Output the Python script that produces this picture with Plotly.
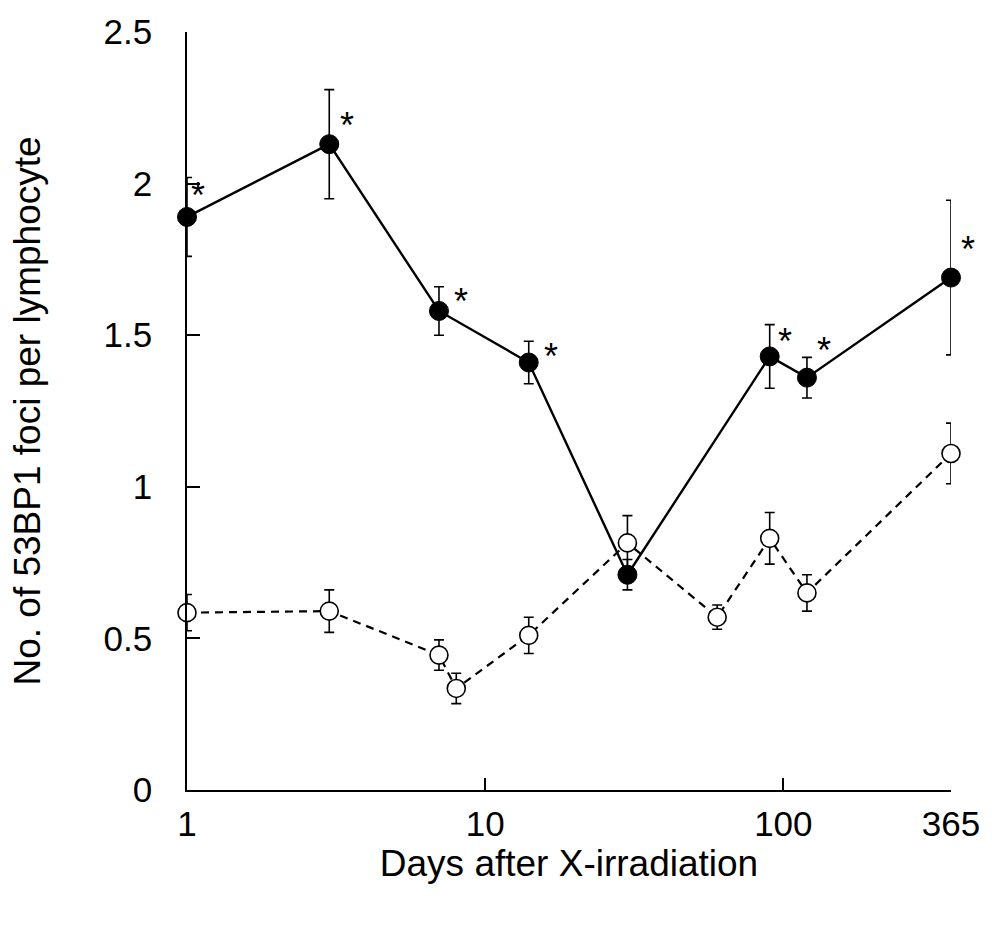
import math
import plotly.graph_objects as go

# Irradiated group (filled circles)
days_irr = [1, 3, 7, 14, 30, 90, 120, 365]
foci_irr = [1.89, 2.13, 1.58, 1.41, 0.71, 1.43, 1.36, 1.69]
err_irr = [0.13, 0.18, 0.08, 0.07, 0.05, 0.105, 0.067, 0.255]
significant = [True, True, True, True, False, True, True, True]

# Control group (open circles)
days_ctrl = [1, 3, 7, 8, 14, 30, 60, 90, 120, 365]
foci_ctrl = [0.585, 0.59, 0.445, 0.335, 0.51, 0.815, 0.57, 0.83, 0.65, 1.11]
err_ctrl = [0.06, 0.07, 0.05, 0.05, 0.06, 0.09, 0.04, 0.085, 0.06, 0.10]

x_tick_vals = [1, 10, 100, 365]
x_tick_text = ["1", "10", "100", "365"]
y_tick_vals = [0, 0.5, 1, 1.5, 2, 2.5]
y_tick_text = ["0", "0.5", "1", "1.5", "2", "2.5"]

# pixel offsets of each asterisk from its marker
star_shift = [(11, 21), (18, 19), (22, 9), (22, 6), (0, 0), (15, 15), (17, 27), (17, 28)]

FONT = "Liberation Sans, Arial, Helvetica, sans-serif"

fig = go.Figure()

fig.add_trace(go.Scatter(
    x=days_ctrl, y=foci_ctrl, mode="lines+markers",
    line=dict(color="black", width=2.2, dash="8px,6px"),
    marker=dict(symbol="circle", size=18, color="white",
                line=dict(color="black", width=1.6)),
    error_y=dict(type="data", array=err_ctrl, visible=True,
                 color="black", thickness=1.6, width=5),
    cliponaxis=False, showlegend=False,
))

fig.add_trace(go.Scatter(
    x=days_irr, y=foci_irr, mode="lines+markers",
    line=dict(color="black", width=2.4),
    marker=dict(symbol="circle", size=19, color="black",
                line=dict(color="black", width=1)),
    error_y=dict(type="data", array=err_irr, visible=True,
                 color="black", thickness=1.6, width=5),
    cliponaxis=False, showlegend=False,
))

for d, v, s, (dx, dy) in zip(days_irr, foci_irr, significant, star_shift):
    if s:
        fig.add_annotation(
            x=math.log10(d), y=v, xref="x", yref="y", text="*",
            showarrow=False, xshift=dx, yshift=dy,
            font=dict(family=FONT, size=36, color="black"),
        )

fig.update_xaxes(
    type="log", range=[0, math.log10(365)], showline=True, linecolor="black",
    linewidth=1.6, showgrid=False, zeroline=False,
    tickvals=x_tick_vals, ticktext=x_tick_text, ticks="",
    ticklabelstandoff=2,
    tickfont=dict(family=FONT, size=35, color="black"),
    minor=dict(tickvals=[10, 100], ticks="inside", ticklen=12,
               tickwidth=1.6, tickcolor="black", showgrid=False),
    title=dict(text="Days after X-irradiation", standoff=0,
               font=dict(family=FONT, size=37, color="black")),
)

fig.update_yaxes(
    range=[0, 2.5], showline=True, linecolor="black", linewidth=1.6,
    showgrid=False, zeroline=False,
    tickvals=y_tick_vals, ticktext=y_tick_text, ticks="inside",
    ticklen=13, tickwidth=1.6, tickcolor="black",
    ticklabelstandoff=26,
    tickfont=dict(family=FONT, size=35, color="black"),
    title=dict(text="No. of 53BP1 foci per lymphocyte", standoff=52,
               font=dict(family=FONT, size=37, color="black")),
)

fig.update_layout(
    width=992, height=934,
    margin=dict(l=187, r=40, t=24, b=144, pad=0),
    plot_bgcolor="white", paper_bgcolor="white",
)

fig.write_html("out.html")
